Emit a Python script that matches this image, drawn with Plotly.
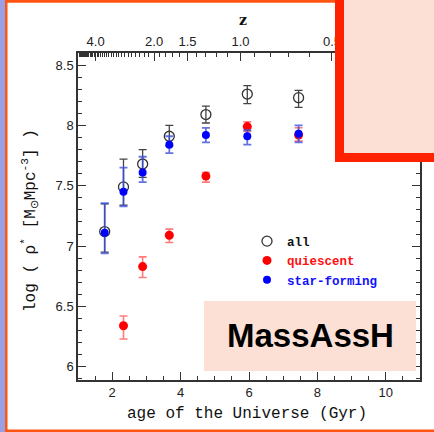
import numpy as np
import plotly.graph_objects as go

# ---------------- data ----------------
age_gyr = [1.78, 2.33, 2.89, 3.67, 4.74, 5.95, 7.45]

all_logrho = [7.12, 7.49, 7.68, 7.91, 8.09, 8.26, 8.23]
all_err_up = [0.23, 0.23, 0.12, 0.09, 0.07, 0.07, 0.06]
all_err_dn = [0.17, 0.15, 0.11, 0.08, 0.07, 0.08, 0.08]

q_logrho = [None, 6.34, 6.83, 7.09, 7.58, 7.99, 7.92]
q_err_up = [0, 0.08, 0.08, 0.05, 0.03, 0.04, 0.06]
q_err_dn = [0, 0.11, 0.09, 0.06, 0.05, 0.04, 0.05]

sf_logrho = [7.11, 7.45, 7.61, 7.84, 7.92, 7.91, 7.93]
sf_err_up = [0.245, 0.20, 0.13, 0.07, 0.06, 0.05, 0.07]
sf_err_dn = [0.17, 0.12, 0.08, 0.07, 0.06, 0.07, 0.07]

x_ticks = [2, 4, 6, 8, 10]
y_ticks = [6, 6.5, 7, 7.5, 8, 8.5]
z_major = [4.0, 2.0, 1.5, 1.0, 0.5]
z_labels = ["4.0", "2.0", "1.5", "1.0", "0.5"]

# ---------------- helpers ----------------
W, H = 434, 432
L, R, T, B = 78, 14, 53, 52
PW, PH = W - L - R, H - T - B


def px(x):
    return (x - L) / PW


def py(y):
    return (H - B - y) / PH


def age_of_z(z, h0=70.0, om=0.3):
    ol = 1.0 - om
    th = 977.8 / h0
    return 2.0 / (3.0 * np.sqrt(ol)) * th * np.arcsinh(np.sqrt(ol / om) * (1.0 + z) ** -1.5)


z_minor = [round(v, 1) for v in np.arange(0.1, 6.01, 0.1) if round(v, 1) not in z_major]
z_minor = [z for z in z_minor if age_of_z(z) > 1.0]

mono = "Liberation Mono"
serif = "DejaVu Serif"
sans = "Liberation Sans"

fig = go.Figure()

fig.add_trace(go.Scatter(
    x=age_gyr, y=all_logrho, mode="markers", name="<b>all</b>",
    marker=dict(symbol="circle-open", size=10, color="#333333", line=dict(width=1.3)),
    error_y=dict(type="data", symmetric=False, array=all_err_up, arrayminus=all_err_dn,
                 color="#444444", thickness=1.3, width=4),
))
fig.add_trace(go.Scatter(
    x=age_gyr, y=q_logrho, mode="markers", name="<span style='color:#ff1010'><b>quiescent</b></span>",
    marker=dict(symbol="circle", size=9, color="#ff0000"),
    error_y=dict(type="data", symmetric=False, array=q_err_up, arrayminus=q_err_dn,
                 color="rgba(255,80,80,0.75)", thickness=1.6, width=4),
))
fig.add_trace(go.Scatter(
    x=age_gyr, y=sf_logrho, mode="markers", name="<span style='color:#1010ff'><b>star-forming</b></span>",
    marker=dict(symbol="circle", size=8, color="#0000ff"),
    error_y=dict(type="data", symmetric=False, array=sf_err_up, arrayminus=sf_err_dn,
                 color="rgba(60,80,220,0.8)", thickness=1.8, width=4),
))
# invisible trace to carry the top (redshift) axis
fig.add_trace(go.Scatter(x=[1, 11], y=[None, None], xaxis="x2", showlegend=False,
                         hoverinfo="skip", mode="markers"))

axis_line = "#333333"
tickfont = dict(family=sans, size=13, color="#222")
fig.update_layout(
    width=W, height=H,
    margin=dict(l=L, r=R, t=T, b=B, pad=0),
    paper_bgcolor="white", plot_bgcolor="white",
    showlegend=True,
    legend=dict(x=px(247), y=py(226.5), xanchor="left", yanchor="top",
                bgcolor="rgba(0,0,0,0)", font=dict(family=mono, size=12.5, color="#111"),
                itemwidth=30, tracegroupgap=0),
    xaxis=dict(range=[1, 11], tickvals=x_ticks, ticks="inside", ticklen=8, tickwidth=1.3,
               tickcolor=axis_line, showline=True, linecolor=axis_line, linewidth=1.5,
               showgrid=False, zeroline=False, mirror=False, tickfont=tickfont,
               minor=dict(dtick=0.5, tick0=0, ticks="inside", ticklen=4, tickcolor=axis_line, tickwidth=1.2)),
    xaxis2=dict(range=[1, 11], overlaying="x", side="top", anchor="y",
                tickvals=[age_of_z(z) for z in z_major], ticktext=z_labels,
                ticks="inside", ticklen=8, tickwidth=1.3, tickcolor=axis_line,
                showline=True, linecolor=axis_line, linewidth=1.5, showgrid=False, zeroline=False,
                tickfont=tickfont,
                minor=dict(tickvals=[age_of_z(z) for z in z_minor], ticks="inside", ticklen=4,
                           tickcolor=axis_line, tickwidth=1.0)),
    yaxis=dict(range=[5.89, 8.6], tickvals=y_ticks, ticks="inside", ticklen=8, tickwidth=1.3,
               tickcolor=axis_line, showline=True, linecolor=axis_line, linewidth=1.5,
               showgrid=False, zeroline=False, mirror="ticks", tickfont=tickfont,
               minor=dict(dtick=0.1, ticks="inside", ticklen=4, tickcolor=axis_line, tickwidth=1.2)),
)

annos = [
    dict(x=px(243), y=py(20), text="<b>z</b>", font=dict(family=serif, size=14, color="#111")),
    dict(x=px(247), y=py(414), text="age of the Universe (Gyr)", font=dict(family=mono, size=16, color="#111")),
    dict(x=px(30), y=py(221), text="log ( ρ<sup>*</sup> [M<sub>⊙</sub>Mpc<sup>-3</sup>] )", textangle=-90,
         font=dict(family=mono, size=16, color="#111")),
    dict(x=px(310), y=py(335), text="<b>MassAssH</b>", font=dict(family=sans, size=33, color="#000")),
]
for a in annos:
    a.update(xref="paper", yref="paper", showarrow=False, xanchor="center", yanchor="middle")
fig.update_layout(annotations=annos)

pink = "#fde0d5"
orange = "#ff5512"
red = "#ff2200"


def rect(x0, y0, x1, y1, color, layer="above"):
    return dict(type="rect", xref="paper", yref="paper", x0=px(x0), x1=px(x1), y0=py(y1), y1=py(y0),
                fillcolor=color, line=dict(width=0), layer=layer)


shapes = [
    rect(-2, -2, 5, 434, "#99a0e6"),
    rect(5, -2, 7.5, 434, orange),
    rect(5, -2, 440, 2.7, orange),
    rect(5, 429.5, 440, 434, orange),
    rect(335, -2, 440, 162, pink),
    rect(335, -2, 344, 162, red),
    rect(335, 153, 440, 162, red),
    rect(204, 301, 416, 371, pink),
]
fig.update_layout(shapes=shapes)

fig.write_html("out.html", config={"displayModeBar": False},
               post_script="document.body.style.margin='0';document.body.style.padding='0';")
